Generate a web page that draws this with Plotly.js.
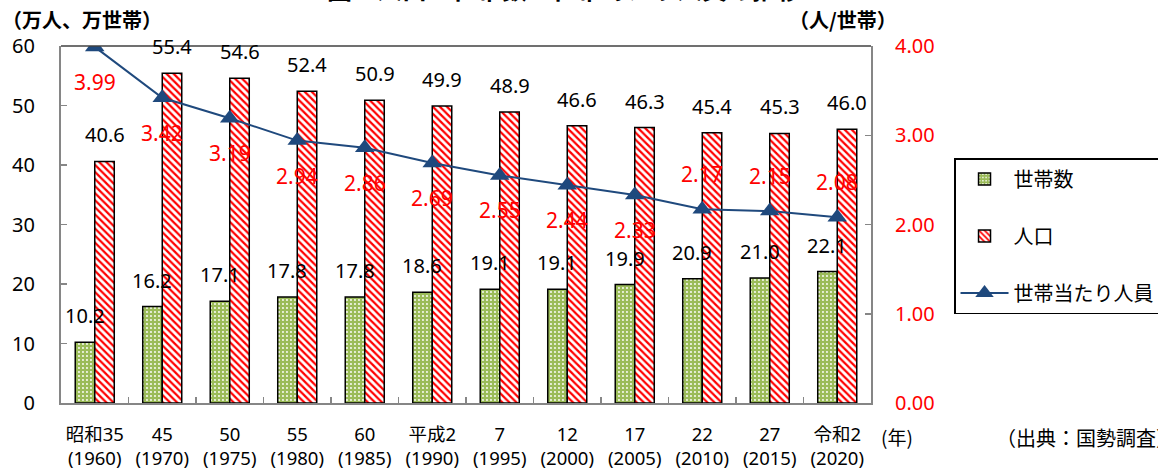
<!DOCTYPE html>
<html>
<head>
<meta charset="utf-8">
<script src="https://cdn.plot.ly/plotly-3.0.1.min.js"></script>
<style>
  html, body { margin: 0; padding: 0; background: #ffffff; }
  #chart { width: 1158px; height: 470px; }
</style>
</head>
<body>
<div id="chart"></div>
<script>
// ---- data ----
const categories = ['昭和35<br>(1960)', '45<br>(1970)', '50<br>(1975)', '55<br>(1980)', '60<br>(1985)',
  '平成2<br>(1990)', '7<br>(1995)', '12<br>(2000)', '17<br>(2005)', '22<br>(2010)', '27<br>(2015)', '令和2<br>(2020)'];
const households = [10.2, 16.2, 17.1, 17.8, 17.8, 18.6, 19.1, 19.1, 19.9, 20.9, 21.0, 22.1];
const population = [40.6, 55.4, 54.6, 52.4, 50.9, 49.9, 48.9, 46.6, 46.3, 45.4, 45.3, 46.0];
const perHousehold = [3.99, 3.42, 3.19, 2.94, 2.86, 2.69, 2.55, 2.44, 2.33, 2.17, 2.15, 2.08];
const seriesNames = ['世帯数', '人口', '世帯当たり人員'];

// ---- label placement (style, not data) ----
const rateLabelAbove = [false, false, false, false, false, false, false, false, false, true, true, true];

const FONT = "'Noto Sans', 'Noto Sans CJK JP', sans-serif";
const JFONT = "'Noto Sans CJK JP', 'Noto Sans', sans-serif";
const BARGAP = 0.422;
const plotW = 810;
const halfBar = (plotW / categories.length) * (1 - BARGAP) / 4;

const traces = [
  {
    type: 'bar', name: seriesNames[0], x: categories, y: households, legendgroup: 'a',
    marker: {
      color: '#9BBB59',
      line: { color: '#000000', width: 1.5 },
      pattern: { shape: '.', fgcolor: '#ffffff', bgcolor: '#9BBB59', size: 4, solidity: 0.18, fillmode: 'replace' }
    },
    hoverinfo: 'skip'
  },
  {
    type: 'bar', name: seriesNames[1], x: categories, y: population, legendgroup: 'b',
    marker: {
      color: '#ffffff',
      line: { color: '#000000', width: 1.5 },
      pattern: { shape: '\\', fgcolor: '#FF0000', bgcolor: '#ffffff', size: 5, solidity: 0.45, fillmode: 'replace' }
    },
    hoverinfo: 'skip'
  },
  {
    type: 'scatter', mode: 'lines+markers', name: seriesNames[2], x: categories, y: perHousehold,
    yaxis: 'y2', legendgroup: 'c',
    line: { color: '#1F497D', width: 2 },
    marker: { symbol: 'triangle-up', size: 17, color: '#1F497D' },
    hoverinfo: 'skip'
  }
];

const annotations = [];
categories.forEach((c, i) => {
  annotations.push({
    x: c, y: households[i], xref: 'x', yref: 'y', text: households[i].toFixed(1),
    showarrow: false, xanchor: 'center', yanchor: 'bottom', xshift: -halfBar, yshift: 11,
    font: { family: FONT, size: 20, color: '#000000' }
  });
  annotations.push({
    x: c, y: population[i], xref: 'x', yref: 'y', text: population[i].toFixed(1),
    showarrow: false, xanchor: 'center', yanchor: 'bottom', xshift: halfBar, yshift: 11,
    font: { family: FONT, size: 20, color: '#000000' }
  });
  annotations.push({
    x: c, y: perHousehold[i], xref: 'x', yref: 'y2', text: perHousehold[i].toFixed(2),
    showarrow: false, xanchor: 'center', yanchor: 'middle', yshift: rateLabelAbove[i] ? 35 : -35,
    font: { family: FONT, size: 21, color: '#FF0000' }
  });
});

annotations.push(
  { xref: 'paper', yref: 'paper', x: -0.075, y: 1.073, xanchor: 'left', yanchor: 'middle', showarrow: false,
    text: '<b>（万人、万世帯）</b>', font: { family: JFONT, size: 20, color: '#000000' } },
  { xref: 'paper', yref: 'paper', x: 0.896, y: 1.073, xanchor: 'left', yanchor: 'middle', showarrow: false,
    text: '<b>（人/世帯）</b>', font: { family: JFONT, size: 20, color: '#000000' } },
  { xref: 'paper', yref: 'paper', x: 0.622, y: 1.106, xanchor: 'center', yanchor: 'bottom', showarrow: false,
    text: '<b>図　人口・世帯数・世帯あたり人員の推移</b>', font: { family: JFONT, size: 25, color: '#000000' } },
  { xref: 'paper', yref: 'paper', x: 1.032, y: -0.095, xanchor: 'center', yanchor: 'middle', showarrow: false,
    text: '(年)', font: { family: JFONT, size: 19, color: '#000000' } },
  { xref: 'paper', yref: 'paper', x: 1.152, y: -0.098, xanchor: 'left', yanchor: 'middle', showarrow: false,
    text: '（出典：国勢調査）', font: { family: JFONT, size: 20, color: '#000000' } }
);

const layout = {
  width: 1158, height: 470,
  margin: { l: 61, r: 287, t: 46, b: 67, autoexpand: false },
  paper_bgcolor: '#ffffff', plot_bgcolor: '#ffffff',
  barmode: 'group', bargap: BARGAP, bargroupgap: 0,
  font: { family: FONT, color: '#000000' },
  showlegend: true,
  legend: {
    x: 1.1025, y: 0.686, xanchor: 'left', yanchor: 'top',
    bordercolor: '#000000', borderwidth: 1.5, bgcolor: '#ffffff',
    font: { family: JFONT, size: 20, color: '#000000' },
    tracegroupgap: 28, itemwidth: 48, traceorder: 'grouped'
  },
  xaxis: {
    type: 'category', range: [-0.5, categories.length - 0.5], autorange: false,
    showgrid: false, zeroline: false,
    showline: true, linecolor: '#868686', linewidth: 2,
    ticks: 'inside', tickson: 'boundaries', ticklen: 6, tickcolor: '#868686', tickwidth: 1.5,
    tickangle: 0,
    tickfont: { family: FONT, size: 18.5, color: '#000000' }, ticklabelstandoff: 14,
    fixedrange: true
  },
  yaxis: {
    range: [0, 60], dtick: 10, showgrid: false, zeroline: false,
    showline: true, linecolor: '#868686', linewidth: 2,
    ticks: 'inside', ticklen: 6, tickcolor: '#868686', tickwidth: 1.5,
    tickfont: { family: FONT, size: 20, color: '#000000' }, ticklabelstandoff: 20,
    fixedrange: true
  },
  yaxis2: {
    overlaying: 'y', side: 'right', range: [0, 4], dtick: 1, tickformat: '.2f',
    showgrid: false, zeroline: false,
    showline: true, linecolor: '#868686', linewidth: 2,
    ticks: 'inside', ticklen: 6, tickcolor: '#868686', tickwidth: 1.5,
    tickfont: { family: FONT, size: 20, color: '#FF0000' }, ticklabelstandoff: 18,
    fixedrange: true
  },
  shapes: [
    { type: 'line', xref: 'paper', yref: 'paper', x0: 0, x1: 1, y0: 1, y1: 1,
      line: { color: '#404040', width: 1.5 } }
  ],
  annotations: annotations
};

Plotly.newPlot('chart', traces, layout, { displayModeBar: false, staticPlot: true });
</script>
</body>
</html>
